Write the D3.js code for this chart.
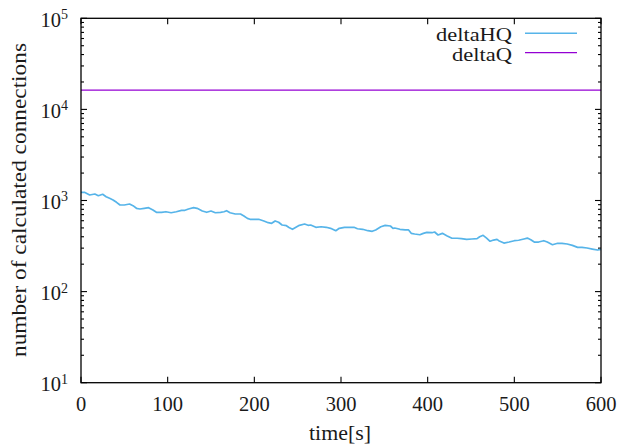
<!DOCTYPE html>
<html>
<head>
<meta charset="utf-8">
<script src="https://cdn.jsdelivr.net/npm/d3@7"></script>
<style>
  html, body { margin: 0; padding: 0; background: #fff; }
  svg { display: block; }
</style>
</head>
<body>
<svg id="chart" width="617" height="447"></svg>
<script>
// ---- data ----
const timeHQ = [0, 4, 10, 16, 20, 25, 29, 33, 37, 41, 45, 50, 56, 60, 64, 68, 73, 78, 83, 87, 93, 98, 104, 110, 116, 120,
  124, 130, 134, 140, 145, 150, 155, 161, 165, 168, 172, 178, 184, 188, 192, 195, 199, 205, 211, 216, 220, 224, 228, 232, 237, 240,
  244, 248, 252, 258, 262, 265, 271, 277, 283, 288, 294, 298, 304, 310, 315, 319, 325, 331, 336, 340, 346, 351, 357, 360,
  362, 368, 374, 378, 381, 385, 391, 395, 399, 405, 408, 412, 417, 422, 428, 434, 439, 445, 451, 457, 460, 464, 468, 472, 476, 480,
  482, 488, 494, 500, 505, 511, 515, 519, 523, 528, 534, 538, 544, 550, 555, 561, 567, 573, 578, 584, 590, 596, 600];
const deltaHQ = [1230, 1230, 1149, 1178, 1129, 1170, 1101, 1057, 1013, 955, 893, 893, 915, 877, 821, 807, 821, 834, 786, 742, 742, 753, 734, 753, 780, 780,
  807, 834, 821, 767, 742, 767, 734, 742, 753, 773, 734, 711, 711, 676, 637, 622, 622, 622, 596, 571, 562, 596, 577, 538, 529, 505,
  483, 508, 534, 552, 534, 538, 508, 515, 508, 495, 466, 495, 508, 508, 508, 490, 483, 466, 459, 475, 515, 534, 525, 495,
  499, 483, 475, 475, 436, 429, 421, 436, 447, 443, 451, 418, 436, 411, 385, 385, 381, 375, 378, 381, 400, 415, 387, 357, 368, 375,
  362, 341, 350, 362, 366, 378, 387, 371, 350, 350, 362, 350, 327, 339, 339, 333, 322, 306, 306, 301, 293, 286, 291];
const timeQ = [0, 600];
const deltaQ = [16300, 16300];
const xTicks = [0, 100, 200, 300, 400, 500, 600];
const yExponents = [1, 2, 3, 4, 5];
const seriesNames = ["deltaHQ", "deltaQ"];
const seriesColors = ["#56b4e9", "#9400d3"];
const xLabel = "time[s]";
const yLabel = "number of calculated connections";

// ---- layout ----
const svg = d3.select("#chart");
const FONT = "'Liberation Serif', 'Times New Roman', 'DejaVu Serif', serif";
const TXT = "#1a1a1a";
const pL = 81, pR = 601, pT = 18.3, pB = 382.7;
const x = d3.scaleLinear().domain([0, 600]).range([pL, pR]);
const y = d3.scaleLog().domain([10, 1e5]).range([pB, pT]);

// minor ticks on log axis
const minorVals = [];
for (let e = 1; e < 5; e++) for (let m = 2; m <= 9; m++) minorVals.push(m * Math.pow(10, e));

const axisG = svg.append("g").attr("stroke", "#000").attr("stroke-width", 1.1);
yExponents.forEach(e => {
  const yy = y(Math.pow(10, e));
  axisG.append("line").attr("x1", pL).attr("x2", pL + 6).attr("y1", yy).attr("y2", yy);
  axisG.append("line").attr("x1", pR).attr("x2", pR - 6).attr("y1", yy).attr("y2", yy);
});
minorVals.forEach(v => {
  const yy = y(v);
  axisG.append("line").attr("x1", pL).attr("x2", pL + 3).attr("y1", yy).attr("y2", yy);
  axisG.append("line").attr("x1", pR).attr("x2", pR - 3).attr("y1", yy).attr("y2", yy);
});
xTicks.forEach(t => {
  const xx = x(t);
  axisG.append("line").attr("x1", xx).attr("x2", xx).attr("y1", pB).attr("y2", pB - 6);
  axisG.append("line").attr("x1", xx).attr("x2", xx).attr("y1", pT).attr("y2", pT + 6);
});

// series lines
const line = d3.line().x(d => x(d[0])).y(d => y(d[1]));
svg.append("path")
  .datum(timeHQ.map((t, i) => [t, deltaHQ[i]]))
  .attr("d", line).attr("fill", "none")
  .attr("stroke", seriesColors[0]).attr("stroke-width", 1.7).attr("stroke-linejoin", "round");
svg.append("path")
  .datum(timeQ.map((t, i) => [t, deltaQ[i]]))
  .attr("d", line).attr("fill", "none")
  .attr("stroke", seriesColors[1]).attr("stroke-width", 1.2);

// frame
svg.append("rect").attr("x", pL).attr("y", pT).attr("width", pR - pL).attr("height", pB - pT)
  .attr("fill", "none").attr("stroke", "#000").attr("stroke-width", 1.3);

function txt(sel) {
  return sel.append("text").style("font-family", FONT).attr("fill", TXT);
}

// x tick labels
xTicks.forEach(t => {
  txt(svg).attr("x", x(t)).attr("y", pB + 28.5)
    .attr("text-anchor", "middle").style("font-size", "20.5px").text(t);
});
// y tick labels 10^e
yExponents.forEach(e => {
  const yy = y(Math.pow(10, e));
  const tx = txt(svg).attr("x", 68).attr("y", yy + 8.4)
    .attr("text-anchor", "end").style("font-size", "20.5px");
  tx.append("tspan").text("10");
  tx.append("tspan").style("font-size", "14px").attr("dy", -7.5).text(e);
});

// axis labels
txt(svg).attr("x", (pL + pR) / 2 - 1).attr("y", 440)
  .attr("text-anchor", "middle").style("font-size", "21px")
  .attr("textLength", 62).attr("lengthAdjust", "spacingAndGlyphs").text(xLabel);
txt(svg).attr("transform", "translate(25.5,200) rotate(-90)")
  .attr("text-anchor", "middle").style("font-size", "21px")
  .attr("textLength", 314).attr("lengthAdjust", "spacingAndGlyphs").text(yLabel);

// legend
const legY = [33.3, 52.7];
const legW = [76, 60];
seriesNames.forEach((n, i) => {
  txt(svg).attr("x", 512).attr("y", legY[i] + 7.8)
    .attr("text-anchor", "end").style("font-size", "18px")
    .attr("textLength", legW[i]).attr("lengthAdjust", "spacingAndGlyphs").text(n);
  svg.append("line").attr("x1", 525).attr("x2", 577).attr("y1", legY[i]).attr("y2", legY[i])
    .attr("stroke", seriesColors[i]).attr("stroke-width", i === 0 ? 1.5 : 1.2);
});
</script>
</body>
</html>
